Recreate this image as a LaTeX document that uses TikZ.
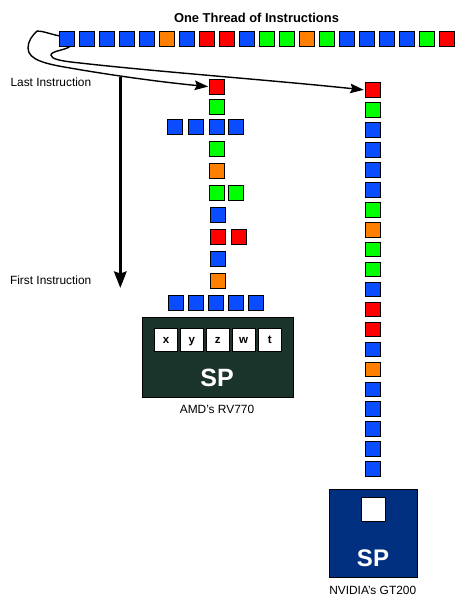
\documentclass[tikz,border=0pt]{standalone}
\usepackage{fontspec}
\setmainfont{Liberation Sans}
\usetikzlibrary{arrows.meta}

\definecolor{sqblue}{HTML}{0A4CFF}
\definecolor{sqgreen}{HTML}{00FF00}
\definecolor{sqorange}{HTML}{FF7F00}
\definecolor{sqred}{HTML}{FF0000}
\definecolor{amdgreen}{HTML}{1B342B}
\definecolor{nvblue}{HTML}{00307F}

\begin{document}
\begin{tikzpicture}[
  x=1pt, y=-1pt,
  sq/.style={draw=black, line width=0.9pt, minimum size=14.6pt, inner sep=0pt},
  reg/.style={draw=black, fill=white, line width=0.9pt, minimum width=23.5pt,
              minimum height=22.5pt, inner sep=0pt, text height=8pt, text depth=2pt,
              font=\fontsize{11.5}{13}\selectfont\bfseries},
  unit/.style={draw=black, line width=0.9pt, inner sep=0pt},
  sp/.style={text=white, font=\fontsize{25}{28}\selectfont\bfseries},
  lbl/.style={font=\fontsize{11.9}{14}\selectfont},
  arr/.style={-{Stealth[length=13.5pt,width=9.5pt,inset=2pt]}, line width=1.4pt},
  bigarr/.style={-{Stealth[length=16.5pt,width=12.5pt,inset=2pt]}, line width=2.8pt},
]
\useasboundingbox (0,0) rectangle (466,607);

\node[font=\fontsize{12.9}{15}\selectfont\bfseries] (title) at (256.5,17.5) {One Thread of Instructions};

% Thread of instructions
\foreach \c [count=\i from 0] in {sqblue,sqblue,sqblue,sqblue,sqblue,sqorange,sqblue,sqred,sqred,sqblue,
                                  sqgreen,sqgreen,sqorange,sqgreen,sqblue,sqblue,sqblue,sqblue,sqgreen,sqred}
  \node[sq, fill=\c] (t\i) at (67+20*\i,38.7) {};

% RV770 stack
\foreach \x/\y/\c [count=\i] in {217/86.7/sqred, 217/106.7/sqgreen,
    175/126.7/sqblue, 196/126.7/sqblue, 217/126.7/sqblue, 236/126.7/sqblue,
    217/148.7/sqgreen, 217/170.7/sqorange, 217/192.7/sqgreen, 236/192.7/sqgreen,
    218/214.7/sqblue, 218/236.7/sqred, 239/236.7/sqred, 218/258.7/sqblue, 218/280.7/sqorange,
    176/302.7/sqblue, 196/302.7/sqblue, 216/302.7/sqblue, 236/302.7/sqblue, 256/302.7/sqblue}
  \node[sq, fill=\c] (a\i) at (\x,\y) {};

% GT200 stack
\foreach \c [count=\i from 0] in {sqred,sqgreen,sqblue,sqblue,sqblue,sqblue,sqgreen,sqorange,sqgreen,sqgreen,
                                  sqblue,sqred,sqred,sqblue,sqorange,sqblue,sqblue,sqblue,sqblue,sqblue}
  \node[sq, fill=\c] (n\i) at (373,90+19.95*\i) {};

% RV770 unit
\node[unit, fill=amdgreen, minimum width=151.4pt, minimum height=80pt] (amd) at (218,357.3) {};
\foreach \l/\x in {x/166, y/191.7, z/217.7, w/243.7, t/269.7}
  \node[reg] (r\l) at (\x,340) {\l};
\node[sp] (amdsp) at (217,378) {SP};
\node[lbl] (amdlbl) at (217,409) {AMD's RV770};

% GT200 unit
\node[unit, fill=nvblue, minimum width=88.4pt, minimum height=88pt] (nv) at (373.5,533.3) {};
\node[reg, minimum width=24.4pt, minimum height=24pt] (nvreg) at (373.5,509.3) {};
\node[sp, font=\fontsize{24}{27}\selectfont\bfseries] (nvsp) at (373,558) {SP};
\node[lbl] (nvlbl) at (372.7,590.7) {NVIDIA's GT200};

% Order of execution
\node[lbl, anchor=west] (last) at (7,82) {Last Instruction};
\node[lbl, anchor=west] (first) at (6.5,280.7) {First Instruction};
\coordinate (o0) at (120.3,77);
\coordinate (o1) at (120.3,288);
\draw[bigarr] (o0)--(o1);

% Fetch curves
\draw[arr, shorten >=1pt] (t0.160) .. controls (50,34) and (43,31) .. (37,31)
  .. controls (32,36) and (28,41) .. (28,48)
  .. controls (28,60) and (46,64) .. (70,68)
  .. controls (110,75) and (160,82) .. (a1.west);
\draw[arr, shorten >=1.5pt] (t0.-70) .. controls (66,50) and (51,51) .. (51,55)
  .. controls (51,59) and (60,61) .. (80,63)
  .. controls (160,72) and (270,80) .. (n0.west);
\end{tikzpicture}
\end{document}
